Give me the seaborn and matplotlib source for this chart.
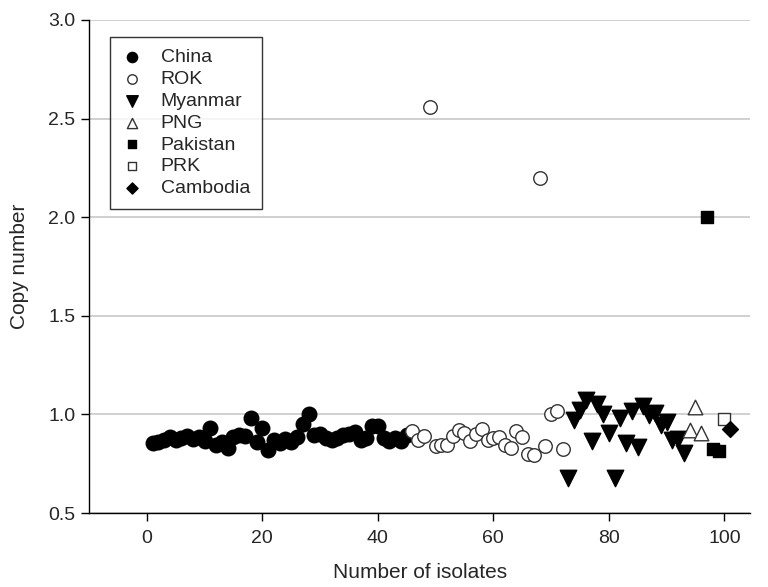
import matplotlib
matplotlib.use("Agg")
import matplotlib.pyplot as plt
import seaborn as sns
import pandas as pd

# ---- data ----
china_x = list(range(1, 46))
china_y = [0.855, 0.86, 0.87, 0.885, 0.87, 0.88, 0.89, 0.875, 0.885, 0.865,
           0.93, 0.845, 0.86, 0.83, 0.885, 0.895, 0.89, 0.98, 0.86, 0.93,
           0.82, 0.87, 0.855, 0.875, 0.86, 0.885, 0.95, 1.0, 0.895, 0.9,
           0.88, 0.87, 0.88, 0.895, 0.9, 0.91, 0.87, 0.88, 0.94, 0.94,
           0.88, 0.865, 0.88, 0.865, 0.895]
rok_x = list(range(46, 73))
rok_y = [0.915, 0.87, 0.89, 2.56, 0.84, 0.845, 0.845, 0.89, 0.92, 0.905,
         0.865, 0.9, 0.925, 0.87, 0.88, 0.885, 0.845, 0.83, 0.915, 0.885,
         0.80, 0.795, 2.20, 0.84, 1.0, 1.015, 0.825]
myanmar_x = list(range(73, 94))
myanmar_y = [0.68, 0.97, 1.02, 1.075, 0.865, 1.055, 1.0, 0.905, 0.68, 0.98,
             0.855, 1.015, 0.835, 1.045, 0.995, 1.005, 0.945, 0.96, 0.87,
             0.875, 0.805]
png_x = [94, 95, 96]
png_y = [0.92, 1.037, 0.905]
pakistan_x = [97, 98, 99]
pakistan_y = [2.0, 0.826, 0.813]
prk_x = [100]
prk_y = [0.978]
cambodia_x = [101]
cambodia_y = [0.924]

countries = ["China", "ROK", "Myanmar", "PNG", "Pakistan", "PRK", "Cambodia"]
xs = [china_x, rok_x, myanmar_x, png_x, pakistan_x, prk_x, cambodia_x]
ys = [china_y, rok_y, myanmar_y, png_y, pakistan_y, prk_y, cambodia_y]

x_ticks = [0, 20, 40, 60, 80, 100]
y_ticks = [0.5, 1.0, 1.5, 2.0, 2.5, 3.0]

# ---- style ----
styles = {
    "China":    dict(marker="o", face="black", size=110),
    "ROK":      dict(marker="o", face="white", size=95),
    "Myanmar":  dict(marker="v", face="black", size=140),
    "PNG":      dict(marker="^", face="white", size=110),
    "Pakistan": dict(marker="s", face="black", size=80),
    "PRK":      dict(marker="s", face="white", size=80),
    "Cambodia": dict(marker="D", face="black", size=65),
}

frames = []
for c, xv, yv in zip(countries, xs, ys):
    frames.append(pd.DataFrame({"isolate": xv, "copy": yv, "country": c}))
df = pd.concat(frames, ignore_index=True)

sns.set_style("white")
plt.rcParams["font.family"] = ["Liberation Sans", "DejaVu Sans"]

fig = plt.figure(figsize=(7.68, 5.87), dpi=100)
ax = fig.add_axes([0.116, 0.126, 0.861, 0.840])

for y in y_ticks:
    ax.axhline(y, color="#c8c8c8", lw=1.2, zorder=0)

for c in countries:
    st = styles[c]
    sub = df[df["country"] == c]
    edge = "black" if st["face"] == "black" else "#333333"
    sns.scatterplot(data=sub, x="isolate", y="copy", ax=ax, marker=st["marker"],
                    s=st["size"], facecolor=st["face"], edgecolor=edge,
                    linewidth=1.0, label=c, zorder=3)

ax.set_xlim(-10, 104.5)
ax.set_ylim(0.5, 3.0)
ax.set_xticks(x_ticks)
ax.set_yticks(y_ticks)
ax.set_yticklabels([f"{v:.1f}" for v in y_ticks])
ax.tick_params(axis="both", labelsize=14, direction="out", length=6, width=1,
               color="black", left=True, bottom=True)
ax.tick_params(axis="x", pad=6)
ax.tick_params(axis="y", pad=4)
for side in ["top", "right"]:
    ax.spines[side].set_visible(False)
for side in ["left", "bottom"]:
    ax.spines[side].set_color("black")
    ax.spines[side].set_linewidth(1.0)

ax.set_xlabel("Number of isolates", fontsize=15, labelpad=12)
ax.set_ylabel("Copy number", fontsize=15, labelpad=14)

leg = ax.legend(loc="upper left", bbox_to_anchor=(0.032, 0.966), fontsize=14,
                frameon=True, fancybox=False, markerscale=0.7,
                labelspacing=0.22, handletextpad=1.0, borderpad=0.6,
                handlelength=1.0, borderaxespad=0)
leg.get_frame().set_edgecolor("black")
leg.get_frame().set_linewidth(1.0)

fig.savefig("out.png", dpi=100)
